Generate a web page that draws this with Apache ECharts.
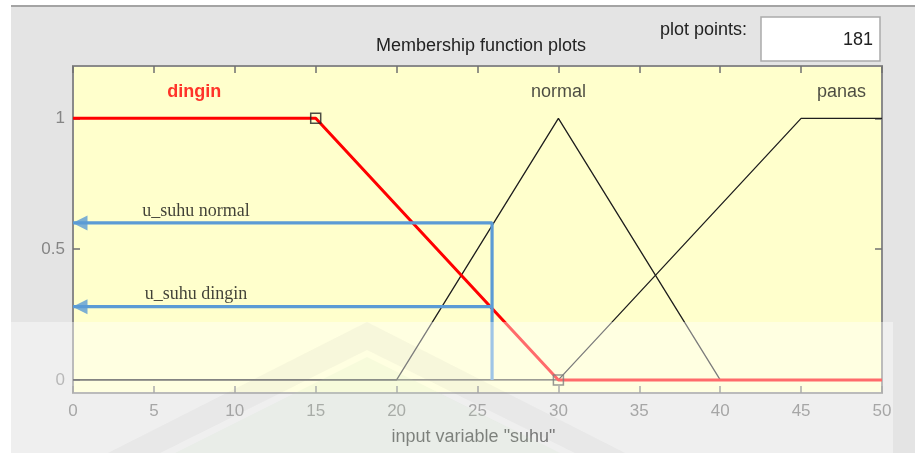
<!DOCTYPE html>
<html>
<head>
<meta charset="utf-8">
<script src="https://cdn.jsdelivr.net/npm/echarts@6/dist/echarts.min.js"></script>
<style>
  html, body { margin: 0; padding: 0; background: #ffffff; }
  #chart { width: 915px; height: 453px; }
</style>
</head>
<body>
<div id="chart"></div>
<script>
// Membership functions of the input variable "suhu" (breakpoints)
const mfNames = ['dingin', 'normal', 'panas'];
const dinginX = [0, 15, 30, 50];
const dinginY = [1, 1, 0, 0];
const normalX = [0, 20, 30, 40, 50];
const normalY = [0, 0, 1, 0, 0];
const panasX = [0, 30, 45, 50];
const panasY = [0, 0, 1, 1];

// Fuzzification of one crisp input
const inputSuhu = 25.9;
const uNormal = 0.6;
const uDingin = 0.28;
const uLabels = ['u_suhu normal', 'u_suhu dingin'];

// Axes
const xTicks = [0, 5, 10, 15, 20, 25, 30, 35, 40, 45, 50];
const yTicks = [0, 0.5, 1];
const plotPoints = 181;

const zip = (xs, ys) => xs.map((x, i) => [x, ys[i]]);

const FONT = 'Liberation Sans, Arial, sans-serif';
const SERIF = 'Liberation Serif, Times New Roman, serif';
const BLUE = '#5B9BD5';
const TICK = { show: true, inside: true, length: 7, lineStyle: { color: '#707070', width: 1.5 } };

// MF name placed over the middle of each plateau at height 1.1
const plateauMid = (xs, ys) => {
  const top = xs.filter((x, i) => ys[i] === 1);
  return (Math.min(...top) + Math.max(...top)) / 2;
};
const nameAnchors = [
  {
    value: [plateauMid(dinginX, dinginY), 1.1, mfNames[0]],
    label: { color: '#FF0000', fontWeight: 'bold' }
  },
  { value: [plateauMid(normalX, normalY), 1.1, mfNames[1]] },
  { value: [plateauMid(panasX, panasY), 1.1, mfNames[2]] }
];

const chart = echarts.init(document.getElementById('chart'), null, { renderer: 'canvas' });

const option = {
  animation: false,
  backgroundColor: '#E4E4E4',
  title: {
    text: 'Membership function plots',
    left: 476,
    top: 32,
    textAlign: 'center',
    textStyle: { fontFamily: FONT, fontSize: 18, fontWeight: 'normal', color: '#222222' }
  },
  grid: {
    left: 73, right: 33, top: 66, bottom: 60,
    show: true,
    backgroundColor: '#FFFFCC',
    borderColor: '#8A8A8A',
    borderWidth: 2
  },
  xAxis: [
    {
      type: 'value', min: 0, max: 50, interval: 5, position: 'bottom',
      name: 'input variable "suhu"',
      nameLocation: 'middle', nameGap: 35,
      nameTextStyle: { fontFamily: FONT, fontSize: 18, color: '#111111', padding: [0, 8, 0, 0] },
      axisLine: { show: false, onZero: false },
      axisTick: Object.assign({ customValues: xTicks }, TICK),
      axisLabel: { margin: 10, fontFamily: FONT, fontSize: 17, color: '#666666', customValues: xTicks },
      splitLine: { show: false }
    },
    {
      type: 'value', min: 0, max: 50, interval: 5, position: 'top',
      axisLine: { show: false, onZero: false },
      axisTick: Object.assign({ customValues: xTicks }, TICK),
      axisLabel: { show: false },
      splitLine: { show: false }
    }
  ],
  yAxis: [
    {
      type: 'value', min: -0.05, max: 1.2, position: 'left',
      axisLine: { show: false, onZero: false },
      axisTick: Object.assign({ customValues: yTicks }, TICK),
      axisLabel: { margin: 8, fontFamily: FONT, fontSize: 17, color: '#858585', customValues: yTicks },
      splitLine: { show: false }
    },
    {
      type: 'value', min: -0.05, max: 1.2, position: 'right',
      axisLine: { show: false, onZero: false },
      axisTick: Object.assign({ customValues: yTicks }, TICK),
      axisLabel: { show: false, customValues: yTicks },
      splitLine: { show: false }
    }
  ],
  series: [
    {
      name: mfNames[1], type: 'line', data: zip(normalX, normalY),
      symbol: 'none', z: 3,
      lineStyle: { color: '#1E1E1E', width: 1.3 }
    },
    {
      name: mfNames[2], type: 'line', data: zip(panasX, panasY),
      symbol: 'none', z: 3,
      lineStyle: { color: '#1E1E1E', width: 1.3 }
    },
    {
      name: mfNames[0], type: 'line', data: zip(dinginX, dinginY),
      symbol: 'none', z: 4,
      lineStyle: { color: '#FF0000', width: 3 }
    },
    {
      // handles on the inner breakpoints of the selected MF
      name: 'handles', type: 'scatter', z: 5,
      data: zip(dinginX, dinginY).slice(1, 3),
      symbol: 'rect', symbolSize: 10,
      itemStyle: { color: 'rgba(0,0,0,0)', borderColor: '#222222', borderWidth: 1.5 }
    },
    {
      name: 'mf labels', type: 'scatter', z: 5, symbolSize: 0,
      data: nameAnchors,
      label: {
        show: true, position: 'inside',
        formatter: p => p.value[2],
        fontFamily: FONT, fontSize: 18, color: '#1E1E1E'
      },
      labelLayout: { hideOverlap: false }
    },
    {
      name: uLabels[0], type: 'line', z: 6,
      data: [[0, uNormal], [inputSuhu, uNormal], [inputSuhu, 0]],
      symbol: 'none',
      lineStyle: { color: BLUE, width: 3.2 }
    },
    {
      name: uLabels[1], type: 'line', z: 6,
      data: [[0, uDingin], [inputSuhu, uDingin]],
      symbol: 'none',
      lineStyle: { color: BLUE, width: 3.2 }
    },
    {
      // arrow heads where the memberships meet the vertical axis
      name: 'arrow heads', type: 'scatter', z: 6,
      data: [[0, uNormal], [0, uDingin]],
      symbol: 'path://M0,7.5L14,0L14,15Z',
      symbolSize: [15, 15],
      symbolOffset: [7, 0],
      itemStyle: { color: BLUE }
    },
    {
      name: 'u labels', type: 'scatter', z: 6, symbolSize: 0,
      data: [[7.6, uNormal, uLabels[0]], [7.6, uDingin, uLabels[1]]],
      label: {
        show: true, position: 'top', distance: 3,
        formatter: p => p.value[2],
        fontFamily: SERIF, fontSize: 18, color: '#111111'
      },
      labelLayout: { hideOverlap: false }
    }
  ],
  graphic: [
    { type: 'rect', shape: { x: 0, y: 0, width: 11, height: 453 }, style: { fill: '#FFFFFF' }, silent: true },
    { type: 'rect', shape: { x: 0, y: 0, width: 915, height: 5 }, style: { fill: '#FFFFFF' }, silent: true },
    { type: 'rect', shape: { x: 11, y: 5, width: 904, height: 2 }, style: { fill: '#A4A4A4' }, silent: true },
    {
      type: 'text', x: 660, y: 30, silent: true,
      style: { text: 'plot points:', fontFamily: FONT, fontSize: 18, fill: '#222222', textVerticalAlign: 'middle' }
    },
    {
      type: 'rect', shape: { x: 761, y: 17, width: 119, height: 44 }, silent: true,
      style: { fill: '#FFFFFF', stroke: '#ABABAB', lineWidth: 1.5 }
    },
    {
      type: 'text', x: 873, y: 40, silent: true,
      style: { text: String(plotPoints), fontFamily: FONT, fontSize: 18, fill: '#222222', textAlign: 'right', textVerticalAlign: 'middle' }
    },
    // pale band over the lower part of the figure
    {
      type: 'rect', z: 100, silent: true,
      shape: { x: 11, y: 322, width: 882, height: 131 },
      style: { fill: 'rgba(255,255,255,0.42)' }
    },
    {
      type: 'polygon', z: 101, silent: true,
      shape: { points: [[367, 322], [625, 453], [575, 453], [367, 350], [160, 453], [108, 453]] },
      style: { fill: 'rgba(140,140,140,0.07)' }
    },
    {
      type: 'polygon', z: 101, silent: true,
      shape: { points: [[367, 357], [560, 453], [175, 453]] },
      style: { fill: 'rgba(190,225,180,0.12)' }
    }
  ]
};

chart.setOption(option);
</script>
</body>
</html>
